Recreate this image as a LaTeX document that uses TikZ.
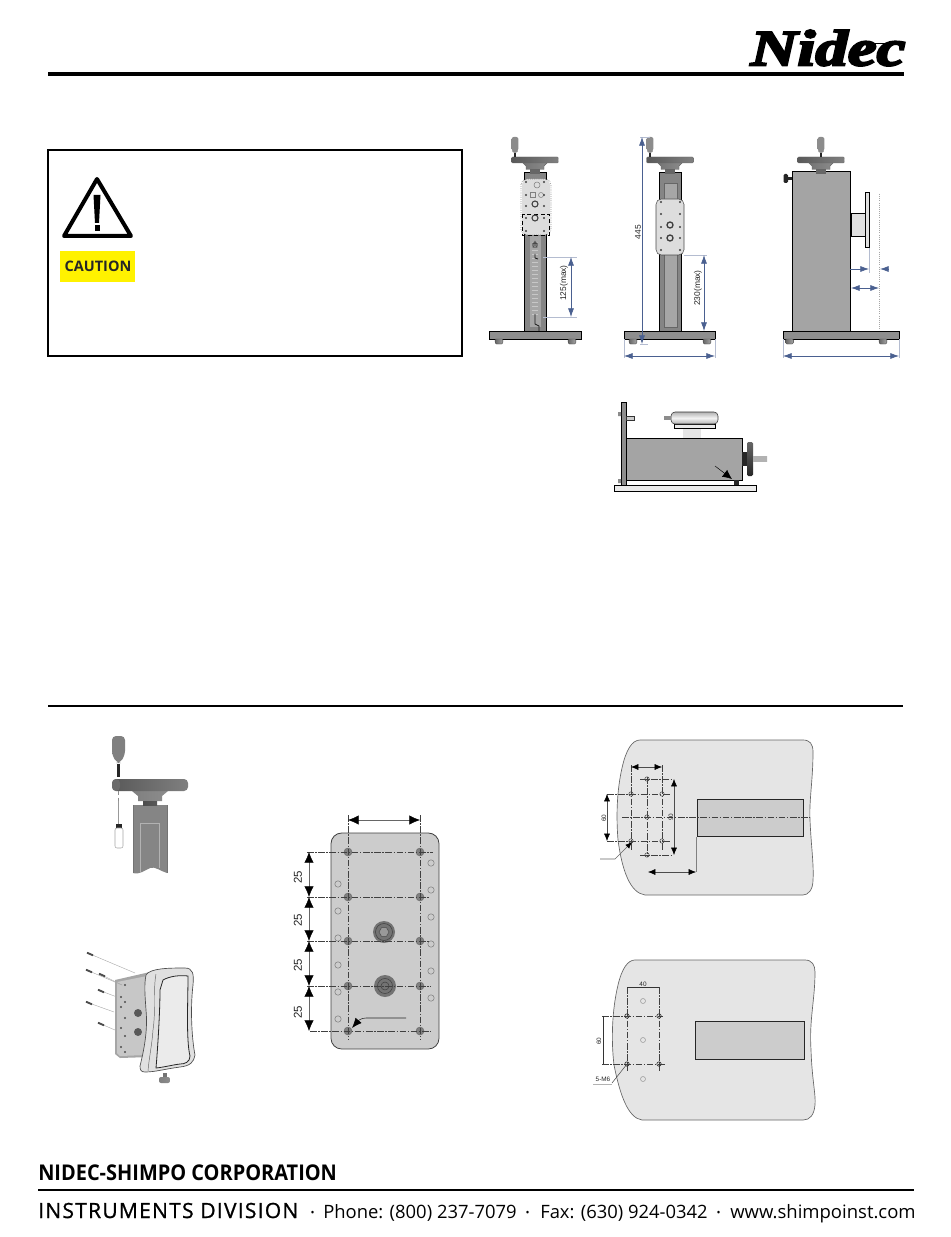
\documentclass[tikz,border=0pt]{standalone}
\usepackage{fontspec}
\usepackage{graphicx}
\usetikzlibrary{arrows.meta,shapes.geometric}
\setmainfont{Liberation Sans}
\newfontfamily\logofont{Liberation Serif}[BoldItalicFeatures={FakeBold=4}]
\newfontfamily\footfont{Open Sans}
\definecolor{dimblue}{HTML}{4A6090}
\definecolor{bodygray}{HTML}{A4A4A4}
\definecolor{colgray}{HTML}{858585}
\definecolor{colinner}{HTML}{A6A6A6}
\definecolor{basegray}{HTML}{8E8E8E}
\definecolor{platelight}{HTML}{DDDDDD}
\definecolor{extgray}{HTML}{B4BCD0}
\tikzset{
  blk/.style={draw=black,line width=.75pt},
  dimarrow/.style={{Latex[length=6.5pt,width=4.5pt]}-{Latex[length=6.5pt,width=4.5pt]},draw=dimblue,line width=.5pt},
  dimend/.style={-{Latex[length=6.5pt,width=4.5pt]},draw=dimblue,line width=.5pt},
  dimext/.style={draw=extgray,line width=.5pt},
  blackdim/.style={{Latex[length=8pt,width=7pt,black]}-{Latex[length=8pt,width=7pt,black]},draw=black!60,line width=.4pt},
  smalldim/.style={{Latex[length=5.5pt,width=4.5pt,black]}-{Latex[length=5.5pt,width=4.5pt,black]},draw=black!70,line width=.4pt},
  centerline/.style={draw=black!75,line width=.45pt,dash pattern=on 5pt off 1.2pt on 1pt off 1.2pt},
  dimtext/.style={font=\fontsize{6.3pt}{7pt}\selectfont,text=black!85,inner sep=0pt},
  tinytext/.style={font=\fontsize{4.8pt}{5pt}\selectfont,text=black!85,inner sep=0pt},
  bigdimtext/.style={font=\fontsize{8.6pt}{9pt}\selectfont,text=black!85,inner sep=0pt},
  wheelfront/.pic={
    \path[draw=black!60,line width=.3pt,left color=black!55,middle color=black!10,right color=black!45] (-13,5) -- (13,5) -- (9,9) -- (9,12.5) -- (-9,12.5) -- (-9,9) -- cycle;
    \path[draw=black!60,line width=.3pt,left color=black!60,middle color=black!15,right color=black!60] (-4.5,12.5) rectangle (4.5,16);
    \path[draw=black!60,line width=.3pt,rounded corners=.8pt,left color=black!65,middle color=black!18,right color=black!50] (-23.5,0) -- (23.5,0) -- (23.5,6) -- (-23.5,6) -- cycle;
  },
  handlepic/.pic={
    \path[rounded corners=1.6pt,left color=black!45,middle color=black!12,right color=black!45] (-3.4,-20) -- (3.4,-20) -- (3.4,-6.5) -- (1.6,-4) -- (-1.6,-4) -- (-3.4,-6.5) -- cycle;
    \fill[black!85] (-1.2,-4) rectangle (1.2,.5);
  },
  footpic/.pic={
    \path[draw=black!70,line width=.3pt,rounded corners=.8pt,left color=black!60,right color=black!35] (-4,0) -- (4,0) -- (3.7,5) -- (-3.7,5) -- cycle;
  }
}
\begin{document}
\begin{tikzpicture}[x=.75pt,y=-.75pt]
\useasboundingbox (0,0) rectangle (950,1237);
\fill[white] (0,0) rectangle (950,1237);

% --- header
\node[inner sep=0pt,anchor=center] (logo) at (828,48) {\resizebox{116pt}{26.5pt}{\logofont\bfseries\itshape Nidec}};
\draw[line width=.7pt] (862,43) -- (905,43);
\draw[line width=2.4pt] (48,74) -- (904,74);
\draw[line width=2pt] (48,706) -- (903,706);

% --- caution box
\draw[line width=1.5pt] (48,150.5) rectangle (462,356);
\draw[line width=3pt,line join=round] (97,179) -- (131,236) -- (64,236) -- cycle;
\fill[black] (93.5,195) -- (100.5,195) -- (99,223) -- (95,223) -- cycle;
\fill[black] (94.5,225) rectangle (99.5,231);
\fill[yellow] (60,251) rectangle (135,282);
\node[inner sep=0pt,text=black!85] (caution) at (98,266.5) {\resizebox{50pt}{!}{\footfont\bfseries CAUTION}};

% --- stand 1
\fill[colgray] (524,173) rectangle (546,332);
\draw[blk] (524,173) rectangle (546,332);
\fill[black!35] (530,236) rectangle (541,327);
\foreach \yy in {242,246,...,314} \draw[black!22,line width=.3pt] (532,\yy) -- (538,\yy);
\fill[platelight,rounded corners=4pt] (522,179) rectangle (550,235);
\draw[black!60,line width=.4pt,densely dotted,rounded corners=4pt] (521,179) rectangle (551,235);
\draw[black,line width=.5pt,densely dashed] (522,214) rectangle (549,235);
\draw[black!50,line width=.4pt] (537,185) circle[radius=3];
\draw[black!50,line width=.4pt] (530,192) rectangle (535,197);
\draw[black!50,line width=.4pt] (541,195) circle[radius=2.5];
\draw[black!75,line width=.8pt] (535,204) circle[radius=3];
\draw[black!75,line width=.8pt] (535,218) circle[radius=3];
\foreach \p in {(526,182),(544,182),(526,195),(544,195),(526,206),(544,206),(526,218),(544,218),(526,231),(544,231)}
  \fill[black!75] \p circle[radius=1.2];
\draw[black!90,line width=.6pt] (535,241) -- (535,246) (533,243) rectangle (537,247) (535,254) -- (535,258) -- (538,259);
\draw[black!90,line width=.6pt] (535,314) -- (535,324) -- (539,326) -- (539,331);
\fill[basegray] (489,331) rectangle (581,339);
\draw[blk] (489,331) rectangle (581,339);
\pic at (499,339) {footpic};
\pic at (572,339) {footpic};
\pic at (535,157) {wheelfront};
\pic at (515,157) {handlepic};
\draw[dimext] (543,257) -- (577,257) (543,317) -- (577,317);
\draw[dimarrow] (571,257) -- (571,317);
\node[dimtext,rotate=90] (d125) at (564,283) {125(max)};

% --- stand 2
\fill[colgray] (659,173) rectangle (681,332);
\draw[blk] (659,173) rectangle (681,332);
\fill[colinner] (664,183) rectangle (677,327);
\draw[black!60,line width=.3pt] (664,183) rectangle (677,327);
\fill[platelight,rounded corners=4pt,draw=black!70,line width=.4pt] (656,199) rectangle (684,255);
\foreach \p in {(661,202),(680,202),(661,214),(680,214),(661,227),(680,227),(661,238),(680,238),(661,250),(680,250)}
  \fill[black!75] \p circle[radius=1.2];
\draw[black!75,line width=1pt] (670,225) circle[radius=3];
\draw[black!75,line width=1pt] (670,238) circle[radius=3];
\fill[basegray] (624,331) rectangle (715,339);
\draw[blk] (624,331) rectangle (715,339);
\pic at (633,339) {footpic};
\pic at (707,339) {footpic};
\pic at (670,157) {wheelfront};
\pic at (650,157) {handlepic};
\draw[dimext] (640,137) -- (650,137) (640,344) -- (648,344) (684,255) -- (707,255) (624,339) -- (624,358) (715,339) -- (715,358);
\draw[dimarrow] (642,137) -- (642,344);
\draw[dimarrow] (704,255) -- (704,331);
\draw[dimarrow] (624,356) -- (715,356);
\node[dimtext,rotate=90] (d445) at (638,232) {445};
\node[dimtext,rotate=90] (d230) at (698,288) {230(max)};

% --- stand 3
\fill[bodygray] (792,172) rectangle (850,331);
\draw[blk] (792,172) rectangle (850,331);
\fill[black!85,rounded corners=1pt] (783.5,174) rectangle (788,183);
\fill[black!85] (788,177) rectangle (792,180);
\fill[black!12] (851,214) rectangle (865,237);
\draw[blk] (851,214) rectangle (865,237);
\fill[black!12] (865,193) rectangle (869,248);
\draw[blk] (865,193) rectangle (869,248);
\draw[black!35,line width=.6pt,densely dotted] (879,194) -- (879,331);
\fill[basegray] (783,331) rectangle (899,339);
\draw[blk] (783,331) rectangle (899,339);
\pic at (789.5,339) {footpic};
\pic at (883,339) {footpic};
\pic at (821,157) {wheelfront};
\pic at (821,157) {handlepic};
\draw[dimext] (869,248) -- (869,273) (783,339) -- (783,358) (899,339) -- (899,358);
\draw[dimend] (850,269) -- (869,269);
\draw[dimend] (888,269) -- (880,269);
\draw[dimarrow] (851,288) -- (879,288);
\draw[dimarrow] (783,356) -- (899,356);

% --- horizontal stand
\fill[black!8] (614,485) rectangle (756,491);
\draw[blk] (614,485) rectangle (756,491);
\fill[basegray] (621,402) rectangle (626,485);
\draw[black,line width=.5pt] (621,402) rectangle (626,485);
\fill[black!45] (618,412) rectangle (621,416) (618,479) rectangle (621,483);
\fill[black!20] (626,416) rectangle (634,420);
\draw[black!80,line width=.5pt] (626,416) rectangle (634,420);
\fill[bodygray] (626,438) rectangle (742,480);
\draw[blk] (626,438) rectangle (742,480);
\fill[black!10] (683,428) rectangle (701,438);
\fill[black!8] (674,424) rectangle (715,428);
\draw[black,line width=.5pt] (674,424) rectangle (715,428);
\path[draw=black!80,line width=.4pt,rounded corners=3pt,top color=black!30,bottom color=black!30,middle color=black!5] (671,412) rectangle (718,424);
\fill[black!45] (664,416) rectangle (671,420);
\fill[black!85] (734,480) rectangle (739,485);
\fill[black!85] (742,452) rectangle (747,466);
\path[rounded corners=1pt,top color=black!60,middle color=black!25,bottom color=black!85] (747,442) rectangle (753,476);
\path[top color=black!30,middle color=black!3,bottom color=black!30] (753,456) rectangle (767,461);
\coordinate (harrow) at (732,479);
\coordinate (htail) at (715,466);
\draw[-{Latex[length=7pt,width=6.5pt]},black,line width=.35pt] (htail) -- (harrow);

% --- fig: handle and screwdriver
\fill[colgray] (133,805) -- (167,805) -- (167,873) .. controls (160,871) and (155,866) .. (150,868) .. controls (145,870) and (140,875) .. (133,873) -- cycle;
\fill[black!48] (140,823) -- (159,823) -- (159,868) .. controls (155,866) and (147,868) .. (140,872) -- cycle;
\draw[black!30,line width=.3pt] (140,823) -- (159,823) -- (159,868) (140,823) -- (140,872);
\draw[black!55,line width=.3pt] (133,805) -- (133,873) (167,805) -- (167,873);
\path[left color=black!50,middle color=black!12,right color=black!45] (132,791) -- (168,791) -- (162,796) -- (162,801) -- (138,801) -- (138,796) -- cycle;
\path[left color=black!70,middle color=black!25,right color=black!65] (143,801) rectangle (157,805);
\path[rounded corners=3pt,left color=black!65,middle color=black!18,right color=black!50] (112,779) rectangle (188,791);
\fill[black!55,opacity=.7,rounded corners=3pt] (112,779) rectangle (120,791);
\path[rounded corners=3pt,left color=black!50,middle color=black!15,right color=black!50] (112,736) -- (125,736) -- (125,755) -- (120,763) -- (117,763) -- (112,755) -- cycle;
\fill[black!85] (117,764) rectangle (120,777);
\draw[black!45,line width=.5pt,densely dashed] (118.5,791) -- (118.5,801);
\draw[black!40,line width=1pt] (118.5,801) -- (118.5,824);
\fill[black!85] (115.5,824) rectangle (122,828);
\draw[black!35,line width=.4pt,rounded corners=1.5pt] (115,828) rectangle (123,848);

% --- fig: bracket with screws
\fill[black!35] (115,980) -- (150,972) -- (150,1057) -- (120,1058) -- (115,1054) -- cycle;
\fill[black!22] (117,982) -- (147,976) -- (147,1055) -- (120,1056) -- (117,1053) -- cycle;
\foreach \p in {(125,985),(125,1002),(125,1018),(125,1036),(125,1052),(121,997),(121,1007),(121,1028),(121,1047)}
  \fill[black!70] \p circle[radius=1.2];
\fill[black!65] (138,1013) circle[radius=4];
\fill[black!65] (138,1032) circle[radius=4];
\path[draw=black!70,line width=.5pt,fill=black!12] (146,975) .. controls (150,968) and (170,968) .. (185,968) .. controls (193,968) and (194,974) .. (193,985) .. controls (190,1010) and (192,1040) .. (195,1055) .. controls (194,1062) and (190,1066) .. (180,1067) .. controls (165,1069) and (155,1072) .. (145,1072) .. controls (141,1072) and (140,1070) .. (140,1066) .. controls (144,1050) and (148,1030) .. (146,1010) .. controls (145,995) and (144,985) .. (146,975) -- cycle;
\path[draw=black!60,line width=.35pt] (156,974) .. controls (153,990) and (156,1010) .. (153,1030) .. controls (152,1045) and (149,1058) .. (148,1071);
\path[draw=black!85,line width=.6pt,fill=black!8] (163,980) .. controls (170,976) and (180,975) .. (188,976) .. controls (188,1000) and (186,1040) .. (190,1056) .. controls (190,1062) and (185,1064) .. (180,1064) .. controls (172,1065) and (165,1067) .. (156,1068) .. controls (158,1045) and (160,1010) .. (160,990) -- cycle;
\path[left color=black!50,middle color=black!15,right color=black!45,rounded corners=1.5pt] (159,1077) rectangle (170,1083);
\fill[black!55] (163,1073) rectangle (167,1077);
\foreach \sx/\sy/\ex/\ey in {90/954/135/973, 89/971/122/985, 102/975/122/985, 101/991/117/997, 89/1003/114/1012, 101/1024/115/1030}{
  \draw[black!35,line width=.3pt] (\sx,\sy) -- (\ex,\ey);
  \draw[black!70,line width=1.4pt] (\sx-3,\sy-1.3) -- (\sx+3,\sy+1.3);
}

% --- fig: plate with hole pattern
\fill[black!20,draw=black!75,line width=.6pt,rounded corners=8pt] (331,833) rectangle (439,1049);
\foreach \yy in {884,911,938,965,992,1019} \draw[black!50,line width=.4pt] (338,\yy) circle[radius=3.2];
\foreach \yy in {863,890,917,944,971,998} \draw[black!50,line width=.4pt] (431,\yy) circle[radius=3.2];
\fill[black!55] (384,932) circle[radius=11];
\draw[black!75,line width=.4pt] (384,932) circle[radius=8.5];
\node[regular polygon,regular polygon sides=6,draw=black!70,fill=black!40,line width=.4pt,minimum size=7.5pt,inner sep=0pt] (hexa) at (384,932) {};
\fill[black!55] (385,986) circle[radius=11];
\draw[black!75,line width=.4pt] (385,986) circle[radius=7.5];
\draw[black!75,line width=.4pt] (385,986) circle[radius=4];
\foreach \yy in {852,897,941,986,1031} {
  \fill[black!50,draw=black!60,line width=.3pt] (348,\yy) circle[radius=4];
  \fill[black!50,draw=black!60,line width=.3pt] (420,\yy) circle[radius=4];
}
\draw[centerline] (348,815) -- (348,1040);
\draw[centerline] (420,815) -- (420,1040);
\draw[centerline] (307,852) -- (433,852);
\draw[centerline] (307,897) -- (430,897);
\draw[centerline] (307,941) -- (430,941);
\draw[centerline] (307,986) -- (431,986);
\draw[centerline] (310,1031) -- (431,1031);
\draw[blackdim] (348,820) -- (420,820);
\foreach \ya/\yb in {852/897,897/941,941/986,986/1031} \draw[blackdim] (309,\ya) -- (309,\yb);
\node[bigdimtext,rotate=90] (p1) at (298,877) {25};
\node[bigdimtext,rotate=90] (p2) at (298,920) {25};
\node[bigdimtext,rotate=90] (p3) at (298,965) {25};
\node[bigdimtext,rotate=90] (p4) at (298,1012) {25};
\coordinate (ptail) at (406,1018);
\coordinate (phead) at (352,1028);
\draw[-{Latex[length=7.5pt,width=6pt,black]},black!85,line width=.4pt] (ptail) -- (366,1018) .. controls (361,1018) and (358,1021) .. (phead);

% --- fig: base, upper
\path[fill=black!10,draw=black!60,line width=.5pt] (640,740) -- (803,740) .. controls (810,740) and (813,744) .. (813,752) .. controls (813,780) and (809,800) .. (810,820) .. controls (811,845) and (814,865) .. (813,880) .. controls (813,890) and (808,895) .. (803,895) -- (645,895) .. controls (630,893) and (622,870) .. (618,840) .. controls (616,815) and (617,790) .. (622,768) .. controls (626,750) and (632,740) .. (640,740) -- cycle;
\fill[black!20,draw=black!85,line width=.55pt] (697,799) rectangle (803,836);
\draw[centerline] (631,765) -- (631,850);
\draw[centerline] (662,765) -- (662,850);
\draw[centerline] (647,777) -- (647,857);
\draw[centerline] (607,794) -- (670,794);
\draw[centerline] (607,841) -- (670,841);
\draw[centerline] (640,779) -- (673,779);
\draw[centerline] (640,855) -- (673,855);
\draw[centerline] (622,817) -- (810,817);
\foreach \p in {(631,794),(662,794),(631,841),(662,841),(647,779),(647,817),(647,855)}
  \draw[black!70,line width=.4pt] \p circle[radius=2.2];
\draw[smalldim] (631,767) -- (662,767);
\draw[smalldim] (607,794) -- (607,841);
\draw[smalldim] (674,779) -- (674,855);
\draw[smalldim] (648,872) -- (696,872);
\draw[black!50,line width=.4pt] (696,837) -- (696,872);
\node[tinytext,rotate=90] (b60) at (604,818) {60};
\node[tinytext,rotate=90] (b90) at (671,817) {90};
\coordinate (btail) at (600,859);
\coordinate (bhead) at (632,842);
\draw[-{Latex[length=5pt,width=4pt,black]},black!60,line width=.4pt] (btail) -- (615,859) -- (bhead);

% --- fig: base, lower
\path[fill=black!10,draw=black!60,line width=.5pt] (635,960) -- (805,960) .. controls (812,960) and (815,965) .. (815,972) .. controls (815,1000) and (809,1020) .. (811,1050) .. controls (812,1080) and (816,1095) .. (815,1105) .. controls (814,1115) and (810,1120) .. (803,1120) -- (642,1120) .. controls (628,1118) and (620,1095) .. (614,1065) .. controls (611,1040) and (612,1010) .. (618,985) .. controls (622,968) and (628,960) .. (635,960) -- cycle;
\fill[black!20,draw=black!85,line width=.55pt] (695,1021) rectangle (804,1059);
\draw[centerline] (627,987) -- (627,1071);
\draw[centerline] (659,987) -- (659,1071);
\draw[centerline] (602,1016) -- (663,1016);
\draw[centerline] (602,1064) -- (665,1064);
\draw[black!80,line width=.4pt] (627,987) -- (659,987);
\draw[black!80,line width=.4pt] (603,1016) -- (603,1064);
\foreach \p in {(627,1016),(659,1016),(627,1064),(659,1064)}
  \draw[black!80,line width=.5pt] \p circle[radius=2.2];
\foreach \p in {(643,1001),(643,1040),(643,1079)}
  \draw[black!40,line width=.4pt] \p circle[radius=2.5];
\node[tinytext] (c40) at (643,984) {40};
\node[tinytext,rotate=90] (c60) at (599,1041) {60};
\node[tinytext] (c5m6) at (603,1079) {5-M6};
\draw[black!70,line width=.4pt] (612,1083) -- (627,1064);
\draw[black!30,line width=.4pt] (593,1084) -- (612,1084);

% --- footer
\node[inner sep=0pt,anchor=base west] (corp) at (38,1180) {\resizebox{224pt}{11.8pt}{\footfont\bfseries NIDEC-SHIMPO CORPORATION}};
\draw[line width=1.9pt] (38,1190) -- (914,1190);
\node[inner sep=0pt,anchor=base west] (div) at (38,1218) {\resizebox{195pt}{11.4pt}{\footfont\addfontfeatures{LetterSpace=6,FakeBold=1}INSTRUMENTS DIVISION}};
\node[inner sep=0pt] (b1) at (312.5,1213.5) {\footfont\fontsize{8pt}{9pt}\selectfont\textbullet};
\node[inner sep=0pt,anchor=base west] (phone) at (323,1218) {\resizebox{145pt}{!}{\footfont Phone: (800) 237-7079}};
\node[inner sep=0pt] (b2) at (527.5,1213.5) {\footfont\fontsize{8pt}{9pt}\selectfont\textbullet};
\node[inner sep=0pt,anchor=base west] (fax) at (540,1218) {\resizebox{125.5pt}{!}{\footfont Fax: (630) 924-0342}};
\node[inner sep=0pt] (b3) at (718.5,1213.5) {\footfont\fontsize{8pt}{9pt}\selectfont\textbullet};
\node[inner sep=0pt,anchor=base west] (web) at (730,1218) {\resizebox{139pt}{!}{\footfont www.shimpoinst.com}};
\end{tikzpicture}
\end{document}
